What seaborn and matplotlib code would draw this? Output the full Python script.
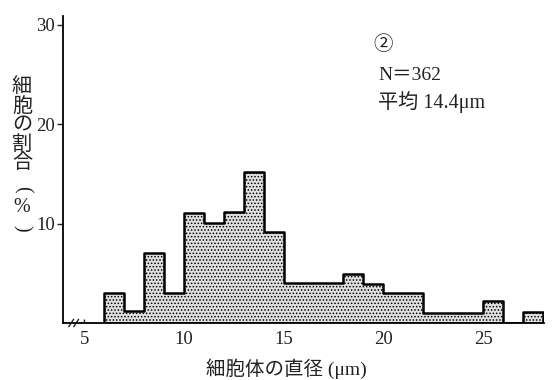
import matplotlib
matplotlib.use("Agg")
import numpy as np
import seaborn as sns
from matplotlib import pyplot as plt
from matplotlib import transforms

# cell body diameter bins (left edge, um) and share of cells (%)
bin_left = list(range(6, 28))
percent = [3.0, 1.2, 7.0, 3.0, 11.1, 10.1, 11.2, 15.2, 9.2, 4.0, 4.0,
           4.0, 4.9, 3.9, 3.0, 3.0, 1.0, 1.0, 1.0, 2.2, 0.0, 1.1]
bin_edges = list(range(6, 29))
x_ticks = [5, 10, 15, 20, 25]
y_ticks = [10, 20, 30]

sns.set_style("ticks")
plt.rcParams["font.family"] = ["Liberation Serif", "Noto Sans CJK JP"]
plt.rcParams["hatch.linewidth"] = 0.7
ink = "#222222"

W, H = 552, 380
fig = plt.figure(figsize=(W / 100, H / 100), dpi=100)
ax = fig.add_axes([0.1145, 0.15, 0.871, 0.808])

sns.histplot(x=bin_left, weights=percent, bins=bin_edges, element="step",
             fill=True, color="#e0e0e0", edgecolor="black", linewidth=1.8,
             alpha=1, ax=ax)
ax.collections[-1].set_hatch(".....")

ax.set_xlim(3.95, 28.05)
ax.set_ylim(0, 30.9)
ax.set_xticks(x_ticks)
ax.set_yticks(y_ticks)
ax.tick_params(axis="x", direction="in", length=3, width=1, colors=ink,
               labelsize=13.5, pad=6)
ax.tick_params(axis="y", direction="out", length=4, width=1, colors=ink,
               labelsize=13.5, pad=2)
for side in ("top", "right"):
    ax.spines[side].set_visible(False)
for side in ("left", "bottom"):
    ax.spines[side].set_linewidth(1.3)
    ax.spines[side].set_color("black")

ax.set_xlabel("細胞体の直径 (μm)", fontsize=14, color=ink)
ax.xaxis.set_label_coords(0.465, -0.115)
ax.set_ylabel("")

# vertical y label, one character per line; parentheses turned sideways
ylabel_chars = [("細", 88, 0), ("胞", 107, 0), ("の", 126, 0), ("割", 145, 0),
                ("合", 164, 0), ("(", 189, -90), ("%", 208, 0), (")", 228, -90)]
for ch, ypix, rot in ylabel_chars:
    fig.text(22 / W, 1 - ypix / H, ch, fontsize=14.5, color=ink,
             ha="center", va="center", rotation=rot)

# axis break mark on the x axis
brk = transforms.blended_transform_factory(ax.transData, ax.transAxes)
for xb in (4.35, 4.6):
    ax.plot([xb - 0.12, xb + 0.12], [-0.012, 0.012], color=ink, lw=1,
            transform=brk, clip_on=False)

ax.text(0.645, 0.89, "②", transform=ax.transAxes, fontsize=14, color=ink)
ax.text(0.655, 0.79, "N＝362", transform=ax.transAxes, fontsize=14, color=ink)
ax.text(0.655, 0.70, "平均 14.4μm", transform=ax.transAxes, fontsize=14.5,
        color=ink)

fig.savefig("out.png", dpi=100)
